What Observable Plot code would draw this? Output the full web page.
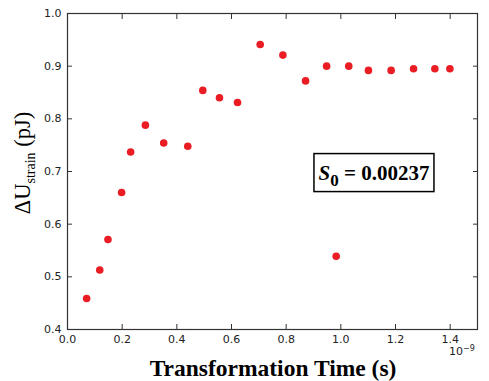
<!DOCTYPE html>
<html>
<head>
<meta charset="utf-8">
<script src="https://cdn.jsdelivr.net/npm/d3@7"></script>
<script src="https://cdn.jsdelivr.net/npm/@observablehq/plot@0.6"></script>
<style>
  html, body { margin: 0; padding: 0; background: #fff; }
  #chart { width: 489px; height: 381px; }
</style>
</head>
<body>
<div id="chart"></div>
<script>
// Transformation time (units of 1e-9 s)
const times = [0.070, 0.118, 0.148, 0.198, 0.231, 0.285, 0.352, 0.440, 0.495, 0.556, 0.622,
               0.705, 0.788, 0.871, 0.948, 0.983, 1.029, 1.101, 1.184, 1.266, 1.344, 1.399];
// Delta U strain (pJ)
const energies = [0.459, 0.513, 0.571, 0.660, 0.737, 0.788, 0.754, 0.748, 0.854, 0.840, 0.831,
                  0.941, 0.921, 0.872, 0.900, 0.539, 0.900, 0.892, 0.892, 0.895, 0.895, 0.895];
const xTicks = [0.0, 0.2, 0.4, 0.6, 0.8, 1.0, 1.2, 1.4];
const yTicks = [0.4, 0.5, 0.6, 0.7, 0.8, 0.9, 1.0];
const annotation = {x: 1.123, y: 0.697, label: "0.00237"};

const data = times.map((t, i) => ({t, e: energies[i]}));

const tickStyle = {stroke: "#333", strokeWidth: 1};
const plot = Plot.plot({
  width: 489,
  height: 381,
  marginLeft: 67,
  marginRight: 12,
  marginTop: 13,
  marginBottom: 52,
  style: {fontFamily: "DejaVu Sans, sans-serif", fontSize: "11px", color: "#222", background: "#fff"},
  x: {domain: [0, 1.5], label: null},
  y: {domain: [0.4, 1.0], label: null},
  marks: [
    Plot.frame({stroke: "#333", strokeWidth: 1.2}),
    // labels
    Plot.axisX(xTicks, {anchor: "bottom", tickSize: 0, tickPadding: 6, tickFormat: d3.format(".1f"), fill: "#222"}),
    Plot.axisY(yTicks, {anchor: "left", tickSize: 0, tickPadding: 6, tickFormat: d3.format(".1f"), fill: "#222"}),
    // inward ticks on all sides
    Plot.axisX(xTicks, {anchor: "bottom", tickSize: -5, text: null, ...tickStyle}),
    Plot.axisX(xTicks, {anchor: "top", tickSize: -5, text: null, ...tickStyle}),
    Plot.axisY(yTicks, {anchor: "left", tickSize: -5, text: null, ...tickStyle}),
    Plot.axisY(yTicks, {anchor: "right", tickSize: -5, text: null, ...tickStyle}),
    Plot.dot(data, {x: "t", y: "e", r: 3.8, fill: "#ea1c24", stroke: "none"})
  ]
});
document.getElementById("chart").appendChild(plot);

const svg = d3.select(plot);
const sx = plot.scale("x"), sy = plot.scale("y");

// offset text
const off = svg.append("text")
  .attr("x", 462).attr("y", 355)
  .attr("font-family", "DejaVu Sans, sans-serif").attr("font-size", 11).attr("fill", "#222");
off.append("tspan").text("10");
off.append("tspan").attr("dy", -4).attr("font-size", 8).text("\u22129");

// x label
svg.append("text")
  .attr("x", 273).attr("y", 376)
  .attr("text-anchor", "middle")
  .attr("font-family", "Liberation Serif, Times New Roman, serif")
  .attr("font-weight", "bold").attr("font-size", 23.5).attr("fill", "#000")
  .text("Transformation Time (s)");

// y label
const yl = svg.append("text")
  .attr("transform", "translate(30,163) rotate(-90)")
  .attr("text-anchor", "middle")
  .attr("font-family", "Liberation Serif, Times New Roman, serif")
  .attr("font-size", 22.5).attr("fill", "#000");
yl.append("tspan").text("\u0394U");
yl.append("tspan").attr("font-size", 14).attr("dy", 5).text("strain");
yl.append("tspan").attr("dy", -5).text(" (pJ)");

// annotation box
const cx = sx.apply(annotation.x), cy = sy.apply(annotation.y);
svg.append("rect")
  .attr("x", cx - 60).attr("y", cy - 19).attr("width", 120).attr("height", 38)
  .attr("fill", "#fff").attr("stroke", "#000").attr("stroke-width", 1.5);
const at = svg.append("text")
  .attr("x", cx).attr("y", cy + 7)
  .attr("text-anchor", "middle")
  .attr("font-family", "Liberation Serif, Times New Roman, serif")
  .attr("font-weight", "bold").attr("font-size", 21).attr("fill", "#000");
at.append("tspan").attr("font-style", "italic").text("S");
at.append("tspan").attr("dy", 6).attr("font-size", 17).text("0");
at.append("tspan").attr("dy", -6).text(" = " + annotation.label);
</script>
</body>
</html>
